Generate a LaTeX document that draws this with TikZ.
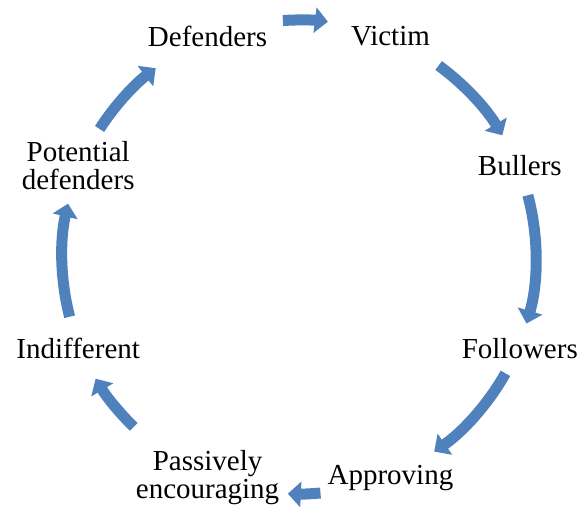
\documentclass[tikz,border=0pt]{standalone}
\usepackage{fontspec}
\setmainfont{Liberation Serif}
\usepackage{xcolor}
\usetikzlibrary{arrows.meta}
\definecolor{cyclec}{HTML}{4F81BD}
\tikzset{
  rolenode/.style={inner sep=0pt, align=center, text=black,
    font=\fontsize{29}{28}\selectfont},
  cycleedge/.style={-{Triangle[length=13pt, width=25pt]}, draw=cyclec,
    line width=11pt, looseness=0.85},
}

\begin{document}
\begin{tikzpicture}[x=1pt, y=1pt]
  \useasboundingbox (-299,-250) rectangle (279,257);
  % roles round the circle
  \node[rolenode] (def) at (112.5:239) {Defenders};
  \node[rolenode] (vic) at (67.5:239) {Victim};
  \node[rolenode] (bul) at (22.5:239) {Bullers};
  \node[rolenode] (fol) at (-22.5:239) {Followers};
  \node[rolenode] (app) at (-67.5:239) {Approving};
  \node[rolenode] (pas) at (-112.5:239) {Passively\\encouraging};
  \node[rolenode] (ind) at (202.5:239) {Indifferent};
  \node[rolenode] (pot) at (157.5:239) {Potential\\defenders};
  % arrow ends on the circle
  \coordinate (dv-t) at (93.9:237);   \coordinate (dv-h) at (83.0:237);
  \coordinate (vb-t) at (53.9:237);   \coordinate (vb-h) at (30.9:237);
  \coordinate (bf-t) at (15.1:237);   \coordinate (bf-h) at (-16.3:237);
  \coordinate (fa-t) at (-29.4:237);  \coordinate (fa-h) at (-55.2:237);
  \coordinate (ap-t) at (-84.8:237);  \coordinate (ap-h) at (-92.7:237);
  \coordinate (pi-t) at (225.8:237);  \coordinate (pi-h) at (210.9:237);
  \coordinate (ip-t) at (194.6:237);  \coordinate (ip-h) at (167.0:237);
  \coordinate (pd-t) at (147.3:237);  \coordinate (pd-h) at (127.2:237);
  \draw[cycleedge] (dv-t) to[bend left=5.5] (dv-h);
  \draw[cycleedge] (vb-t) to[bend left=11.5] (vb-h);
  \draw[cycleedge] (bf-t) to[bend left=15.7] (bf-h);
  \draw[cycleedge] (fa-t) to[bend left=12.9] (fa-h);
  \draw[cycleedge] (ap-t) to[bend left=4] (ap-h);
  \draw[cycleedge] (pi-t) to[bend left=7.5] (pi-h);
  \draw[cycleedge] (ip-t) to[bend left=13.8] (ip-h);
  \draw[cycleedge] (pd-t) to[bend left=10] (pd-h);
\end{tikzpicture}
\end{document}
